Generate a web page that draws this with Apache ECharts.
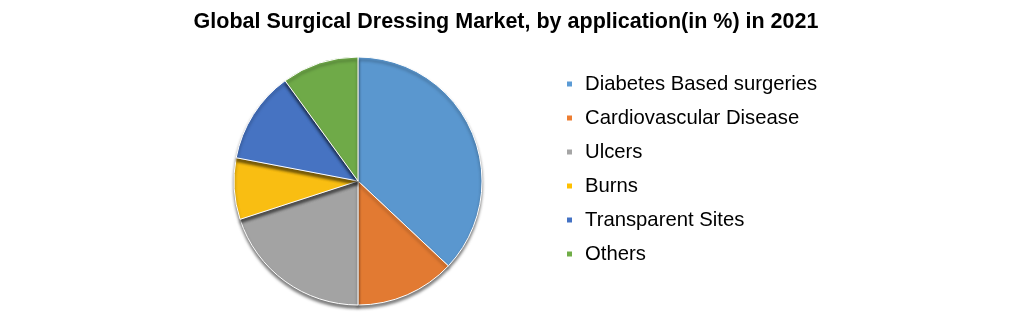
<!DOCTYPE html>
<html>
<head>
<meta charset="utf-8">
<script src="https://cdn.jsdelivr.net/npm/echarts@6/dist/echarts.min.js"></script>
<style>html,body{margin:0;padding:0;background:#fff;}#c{width:1012px;height:314px;}</style>
</head>
<body>
<div id="c"></div>
<script>
const titleText = 'Global Surgical Dressing Market, by application(in %) in 2021';
const categories = ['Diabetes Based surgeries', 'Cardiovascular Disease', 'Ulcers', 'Burns', 'Transparent Sites', 'Others'];
const values = [37, 13, 20, 8, 12, 10];
const colors = ['#5A97CF', '#E27A32', '#A3A3A3', '#F9BE12', '#4673C2', '#6FAA48'];
const legendColors = ['#5B9BD5', '#ED7D31', '#A5A5A5', '#FFC000', '#4472C4', '#70AD47'];

const chart = echarts.init(document.getElementById('c'), null, {renderer: 'canvas'});
chart.setOption({
  animation: false,
  backgroundColor: '#ffffff',
  title: {
    text: titleText,
    left: 'center',
    top: 6,
    textStyle: {fontFamily: 'Liberation Sans', fontWeight: 'bold', fontSize: 21.5, color: '#000'}
  },
  legend: {
    orient: 'vertical',
    left: 560,
    top: 69,
    icon: 'rect',
    itemWidth: 7,
    itemHeight: 7,
    itemGap: 14,
    data: categories.map((n, i) => ({name: n, itemStyle: {color: legendColors[i]}})),
    textStyle: {fontFamily: 'Liberation Sans', fontSize: 20.3, lineHeight: 20, color: '#000', padding: [0, 0, 0, 7]}
  },
  series: [{
    type: 'pie',
    center: [358, 181],
    radius: 124,
    startAngle: 90,
    clockwise: true,
    label: {show: false},
    labelLine: {show: false},
    itemStyle: {
      borderColor: '#ffffff',
      borderWidth: 1,
      shadowColor: 'rgba(0,0,0,0.5)',
      shadowBlur: 3,
      shadowOffsetY: 3
    },
    data: categories.map((n, i) => ({
      name: n,
      value: values[i],
      itemStyle: {color: colors[i]}
    }))
  }]
});
</script>
</body>
</html>
